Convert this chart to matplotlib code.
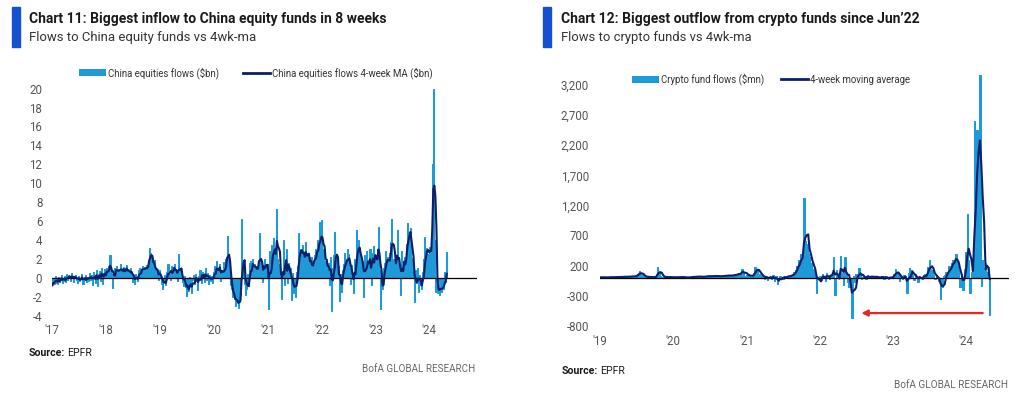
import matplotlib
matplotlib.use('Agg')
import matplotlib.pyplot as plt
import matplotlib.dates as mdates
from matplotlib import font_manager as fm
from matplotlib.patches import Rectangle, Patch
from matplotlib.lines import Line2D
import pandas as pd

W, H = 1024, 395
avail = {f.name for f in fm.fontManager.ttflist}
NARROW = 'Liberation Sans Narrow' if 'Liberation Sans Narrow' in avail else 'Roboto'
TICKF = 'Roboto'

# ---------------- Chart 11 data: weekly China equity fund flows ($bn) ----------------
china_2017 = [-0.8, -0.3, -0.6, 0.2, -0.5, -0.7, 0.1, -0.4, -0.2, 0.3, -0.5, -0.3, 0.2,
              -0.4, 0.4, -0.2, 0.3, 0.1, -0.3, 0.5, 0.2, -0.4, 0.1, 0.3, -0.2, -0.5,
              0.2, -0.3, -0.1, 0.4, -0.6, -0.2, 0.3, -0.4, 0.1, -0.3, 0.5, -0.2, 0.3,
              -0.8, 0.6, 0.2, -0.5, 0.8, -0.9, 0.4, 0.7, -0.3, 1.0, -0.6, 0.5, 0.9]
china_2018 = [0.3, 1.0, 0.5, 1.2, 2.4, 0.4, -1.1, 0.8, 1.0, 0.3, 1.2, 0.6, 0.9,
              0.4, 1.5, 0.8, 0.3, 1.1, 0.6, 0.9, 1.4, 0.2, 0.7, 0.5, 1.0, 0.3,
              -0.4, 0.2, -0.6, 0.4, 0.1, -0.3, 0.8, 1.0, 0.4, 1.3, 0.9, 1.1, 0.6,
              1.4, 1.0, 1.8, 3.2, 2.6, 2.0, 1.5, 0.6, 1.9, 0.3, 0.8, 0.5, -0.2]
china_2019 = [0.8, 0.2, -0.6, -1.2, -0.4, 0.3, -0.8, 0.6, 1.5, 0.4, -0.2, 1.2, 0.7,
              0.9, 1.5, 0.3, 0.6, -0.3, 2.5, 0.8, 0.2, 0.5, -0.4, -0.9, 0.2, -1.0,
              -1.9, -0.6, -1.4, 0.1, -0.8, -1.6, -0.2, 0.3, -0.6, 0.4, -0.3, -1.3, 0.2,
              0.8, -0.5, 0.6, 0.3, -0.4, 1.0, -0.2, 0.5, -0.6, 0.3, -0.3, 0.2, -0.5]
china_2020 = [0.6, 1.2, 0.4, 1.8, 0.2, 0.9, 1.5, -0.3, 0.8, 0.5, 1.7, 0.3, 2.0,
              4.4, 2.2, 1.2, -0.8, -1.2, -2.0, -1.5, -2.2, -3.0, -2.4, -2.0, -3.2, -2.6,
              -1.8, 6.2, 0.5, 1.4, -0.6, -1.8, -1.2, 0.4, -0.9, 1.6, 1.8, 0.5, 2.0,
              0.8, 1.5, 0.3, 1.2, 0.9, 4.7, 0.6, 1.8, -0.4, 1.4, 2.0, 1.2, 0.8]
china_2021 = [1.5, -3.3, 2.8, 1.0, 3.5, 1.8, 4.2, 2.5, 1.6, 7.3, 2.0, 1.5, 0.2,
              -2.2, 0.5, 4.0, -0.8, 1.2, 3.1, -0.5, 1.6, 0.4, 1.0, -2.3, 0.5, -1.6,
              -0.4, -2.0, 0.6, 1.2, 4.7, 2.2, 3.0, 1.8, 3.5, 2.4, 1.2, 3.8, 2.0,
              2.6, 1.8, 0.6, 2.2, 0.9, 1.5, 2.4, 3.0, 1.6, 4.0, 2.8, 5.9, 2.6]
china_2022 = [6.1, 2.5, 3.0, 1.8, 0.8, 2.0, 0.5, 1.6, -0.8, 2.2, -3.5, 1.0, 2.4,
              4.8, 0.6, 2.0, 1.2, -2.4, 0.4, -1.5, 0.8, 1.5, 2.6, 0.3, 1.8, 3.0,
              2.5, 1.0, -0.6, 1.4, 0.2, -1.6, 2.0, 0.9, 5.1, 2.2, 4.0, 1.5, 2.5,
              0.6, 1.8, -2.0, 2.4, 1.2, 2.8, 0.5, 1.6, 3.0, -0.8, 2.6, 3.4, 1.2]
china_2023 = [2.4, 1.2, 3.0, 5.4, 0.8, -3.3, 0.5, -1.2, 1.0, 1.6, 2.8, 1.0, 2.2,
              1.5, 2.6, 3.8, 6.2, 1.8, 2.0, 0.8, 1.5, 5.1, 0.6, 1.2, -1.8, 2.8,
              1.4, 0.5, 2.2, 1.6, 3.6, 5.8, 4.5, 3.8, 5.3, 2.1, 1.2, 0.4, -2.6,
              0.8, -0.5, 1.0, -1.5, 0.3, -0.8, -1.2, 0.6, 2.0, 4.3, 1.8, 3.2, 2.5]
china_2024 = [3.3, 2.5, 3.0, 12.0, 20.0, 4.0, -1.5, -1.2, -1.6, -0.5, -1.8, -0.8,
              -1.5, -0.3, -1.2, 0.6, -0.4, 2.7]

# ---------------- Chart 12 data: weekly crypto fund flows ($mn) ----------------
crypto_2019 = [5, 2, 8, 3, 0, 6, 4, 10, 5, 3, 8, 12, 6,
               4, 10, 15, 8, 12, 20, 10, 14, 25, 18, 12, 20, 30,
               40, 60, 115, 70, 35, 20, 15, 10, 12, 8, 5, 10, 6,
               8, 20, 175, 110, 30, 15, 10, 8, 12, 5, 6, 10, 4]
crypto_2020 = [3, 5, 8, 4, 10, 6, 12, 5, 8, -5, 3, 6, 10,
               8, 12, 15, 10, 20, 15, 12, 18, 10, 14, 20, 25, 30,
               20, 15, 25, 35, 20, 18, 30, 25, 15, 20, 40, 30, 25,
               35, 45, 30, 20, 50, 60, 40, 55, 80, 60, 145, 90, 30]
crypto_2021 = [40, 60, 20, 10, 30, 80, 170, 150, 120, 60, 40, 20, 10,
               -20, 30, -40, 10, 20, -30, 40, -60, 20, -100, -50, 30, 10,
               -20, 15, 10, 25, 30, 20, 40, 60, 90, 120, 200, 300, 250,
               400, 350, 1320, 600, 550, 400, 340, 250, 150, 120, 60, -255, 10]
crypto_2022 = [30, -40, 60, 20, -60, 80, 40, -30, 50, 100, 345, -290, 120,
               40, 60, 355, 80, -120, 345, 60, -80, -150, -100, -670, 30, -80,
               60, 20, 160, 40, -30, 10, 30, -20, 40, 15, -10, 20, 30,
               10, -15, 20, 5, -10, 15, 25, -20, 10, 5, -30, 10, 15]
crypto_2023 = [20, 60, 140, 100, 40, -60, 30, -30, 50, 20, -260, 80, 160,
               120, 40, -40, 60, 20, -80, 30, 10, -20, 40, 60, 20, 180,
               300, 150, 120, 40, -20, 30, 10, -60, -360, -150, 20, 40, 100,
               60, 200, 150, 250, 300, 280, 400, 220, 120, -150, 60, -200, 150]
crypto_2024 = [420, 1050, 300, -260, 100, 300, 2600, 1500, 2450, 1800, 3370, -140,
               300, 150, 240, 100, 180, -620]

china_years = [2017, 2018, 2019, 2020, 2021, 2022, 2023, 2024]
crypto_years = [2019, 2020, 2021, 2022, 2023, 2024]
china_ticklabels = ["'17", "'18", "'19", "'20", "'21", "'22", "'23", "'24"]
crypto_ticklabels = ["'19", "'20", "'21", "'22", "'23", "'24"]
china_yticks = [-4, -2, 0, 2, 4, 6, 8, 10, 12, 14, 16, 18, 20]
crypto_yticks = [-800, -300, 200, 700, 1200, 1700, 2200, 2700, 3200]


def weekly(years, arrays):
    dates, vals = [], []
    for y, arr in zip(years, arrays):
        dates.extend(pd.date_range(f'{y}-01-01', periods=len(arr), freq='7D'))
        vals.extend(arr)
    return pd.Series(vals, index=pd.DatetimeIndex(dates))


china = weekly(china_years, [china_2017, china_2018, china_2019, china_2020,
                             china_2021, china_2022, china_2023, china_2024])
crypto = weekly(crypto_years, [crypto_2019, crypto_2020, crypto_2021,
                               crypto_2022, crypto_2023, crypto_2024])
china_ma = china.rolling(4, min_periods=1).mean()
crypto_ma = crypto.rolling(4, min_periods=1).mean()

BAR = '#1e9ad8'
NAVY = '#0c1f6b'
TITLEBLUE = '#1450d0'
TXT = '#1a1a1a'
GREY = '#555555'

fig = plt.figure(figsize=(W / 100, H / 100), dpi=100)
fig.patch.set_facecolor('white')


def axes_px(left, right, top, bottom):
    return fig.add_axes([left / W, 1 - bottom / H, (right - left) / W, (bottom - top) / H])


def style(ax, xticks, xlabels, yticks, ylabels, ypad, xpad):
    for s in ax.spines.values():
        s.set_visible(False)
    ax.set_xticks([mdates.date2num(pd.Timestamp(f'{y}-01-01')) for y in xticks])
    ax.set_xticklabels(xlabels)
    ax.set_yticks(yticks)
    ax.set_yticklabels(ylabels)
    ax.tick_params(axis='both', length=0, labelsize=8.3, labelcolor=GREY)
    ax.tick_params(axis='y', pad=ypad)
    ax.tick_params(axis='x', pad=xpad)
    for t in ax.get_xticklabels() + ax.get_yticklabels():
        t.set_family(TICKF)
    ax.set_facecolor('none')


# ---------------- Chart 11 ----------------
ax1 = axes_px(52, 477, 86.7, 315.7)
ax1.bar(china.index, china.values, width=7, color=BAR, edgecolor=BAR, linewidth=0.75, zorder=1)
ax1.axhline(0, color='black', lw=0.9, zorder=2)
ax1.plot(china_ma.index, china_ma.values, color=NAVY, lw=1.5, zorder=3)
ax1.set_xlim(mdates.date2num(pd.Timestamp('2017-01-01')), mdates.date2num(pd.Timestamp('2024-11-20')))
ax1.set_ylim(-4, 20.2)
style(ax1, china_years, china_ticklabels, china_yticks, [str(v) for v in china_yticks], 7, 6)

# ---------------- Chart 12 ----------------
ax2 = axes_px(600, 1009, 70, 325.7)
ax2.bar(crypto.index, crypto.values, width=7, color=BAR, edgecolor=BAR, linewidth=0.75, zorder=1)
ax2.axhline(0, color='black', lw=0.9, zorder=2)
ax2.plot(crypto_ma.index, crypto_ma.values, color=NAVY, lw=1.5, zorder=3)
ax2.set_xlim(mdates.date2num(pd.Timestamp('2019-01-01')), mdates.date2num(pd.Timestamp('2024-08-03')))
ax2.set_ylim(-800, 3450)
style(ax2, crypto_years, crypto_ticklabels, crypto_yticks, [f'{v:,}' for v in crypto_yticks], 8, 7)
ax2.annotate('', xy=(mdates.date2num(pd.Timestamp('2022-07-28')), -590),
             xytext=(mdates.date2num(pd.Timestamp('2024-03-25')), -590),
             arrowprops=dict(arrowstyle='-|>', color='#e32a22', lw=1.6,
                             mutation_scale=9, shrinkA=0, shrinkB=0))

# ---------------- Titles, sources ----------------
for x0 in (12, 543):
    fig.patches.append(Rectangle((x0 / W, 1 - 47 / H), 8 / W, 40 / H,
                                 transform=fig.transFigure, color=TITLEBLUE, zorder=5))

texts_to_fit = []
t = fig.text(29 / W, 1 - 19 / H, 'Chart 11: Biggest inflow to China equity funds in 8 weeks',
             fontsize=10, fontweight='bold', family=NARROW, color=TXT, va='center')
texts_to_fit.append((t, 359))
t = fig.text(29 / W, 1 - 38 / H, 'Flows to China equity funds vs 4wk-ma',
             fontsize=10, family=NARROW, color='#333333', va='center')
texts_to_fit.append((t, 228))
t = fig.text(561 / W, 1 - 19 / H, 'Chart 12: Biggest outflow from crypto funds since Jun\u201922',
             fontsize=10, fontweight='bold', family=NARROW, color=TXT, va='center')
texts_to_fit.append((t, 357))
t = fig.text(561 / W, 1 - 38 / H, 'Flows to crypto funds vs 4wk-ma',
             fontsize=10, family=NARROW, color='#333333', va='center')
texts_to_fit.append((t, 191))
t = fig.text(475 / W, 1 - 369 / H, 'BofA GLOBAL RESEARCH', fontsize=8, family=NARROW,
             color='#666666', va='center', ha='right')
texts_to_fit.append((t, 112))
t = fig.text(1008 / W, 1 - 385 / H, 'BofA GLOBAL RESEARCH', fontsize=8, family=NARROW,
             color='#666666', va='center', ha='right')
texts_to_fit.append((t, 113))

fig.canvas.draw()
r = fig.canvas.get_renderer()
for t, target in texts_to_fit:
    w = t.get_window_extent(renderer=r).width
    t.set_fontsize(t.get_fontsize() * target / w)

# Source lines (bold label + regular text)
for x0, y0 in ((29, 353), (562, 371)):
    s1 = fig.text(x0 / W, 1 - y0 / H, 'Source:', fontsize=7.6, fontweight='bold',
                  family=NARROW, color=TXT, va='center')
    fig.canvas.draw()
    wpx = s1.get_window_extent(renderer=r).width
    fig.text((x0 + wpx + 2) / W, 1 - y0 / H, 'EPFR', fontsize=7.6, family=NARROW,
             color=TXT, va='center')

# legends
probe = fig.text(0, 0, 'China equities flows ($bn)', fontsize=10, family=NARROW)
fig.canvas.draw()
lfs = 10 * 111 / probe.get_window_extent(renderer=r).width
probe.remove()
fpx = lfs * 100 / 72


def legend(ax, labels, x_px, y_px, colsp_px):
    handles = [Patch(facecolor=BAR, edgecolor='none'), Line2D([], [], color=NAVY, lw=2)]
    leg = ax.legend(handles, labels, loc='center left',
                    bbox_to_anchor=(x_px / W, 1 - y_px / H), bbox_transform=fig.transFigure,
                    ncol=2, frameon=False, borderpad=0, borderaxespad=0,
                    handlelength=27 / fpx, handleheight=0.75, handletextpad=2 / fpx,
                    columnspacing=colsp_px / fpx,
                    prop={'family': NARROW, 'size': lfs})
    for tx in leg.get_texts():
        tx.set_color('#333333')
    return leg


legend(ax1, ['China equities flows ($bn)', 'China equities flows 4-week MA ($bn)'], 79, 72.7, 24)
legend(ax2, ['Crypto fund flows ($mn)', '4-week moving average'], 632, 79.3, 17)

fig.savefig('out.png', dpi=100, facecolor='white')
